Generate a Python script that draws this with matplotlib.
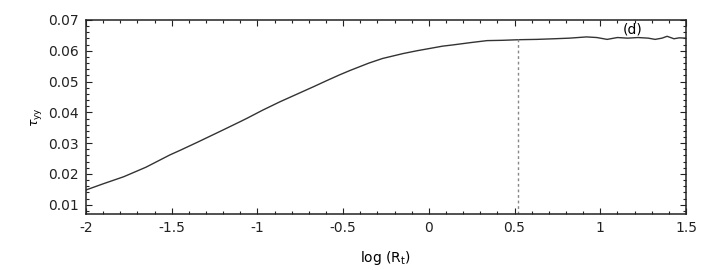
import matplotlib.pyplot as plt
from matplotlib.ticker import MultipleLocator

# values
log_rt = [-2.0, -1.9, -1.78, -1.65, -1.51, -1.45, -1.35, -1.26, -1.2, -1.1,
          -1.06, -0.97, -0.87, -0.77, -0.67, -0.6, -0.52, -0.46, -0.35, -0.27,
          -0.15, -0.07, 0.0, 0.08, 0.14, 0.25, 0.34, 0.43, 0.53, 0.63,
          0.73, 0.82, 0.92, 0.98, 1.04, 1.1, 1.16, 1.22, 1.28, 1.32,
          1.36, 1.39, 1.43, 1.46, 1.5]
tau_yy = [0.0148, 0.0168, 0.0191, 0.0222, 0.0262, 0.0277, 0.0303, 0.0327, 0.0343, 0.0370,
          0.0381, 0.0407, 0.0434, 0.0459, 0.0484, 0.0502, 0.0522, 0.0536, 0.0560, 0.0575,
          0.0591, 0.0600, 0.0607, 0.0615, 0.0619, 0.0627, 0.0633, 0.0634, 0.0636, 0.0637,
          0.0639, 0.0641, 0.0645, 0.0643, 0.0637, 0.0643, 0.0641, 0.0643, 0.0641, 0.0637,
          0.0641, 0.0647, 0.0639, 0.0642, 0.0641]
marker_x = 0.52
panel = "(d)"

fig = plt.figure(figsize=(7.13, 2.7), dpi=100)
ax = fig.add_axes([0.1206, 0.2074, 0.8415, 0.7186])

ax.plot(log_rt, tau_yy, color="#333333", lw=1.0)
ax.axvline(marker_x, ymax=(0.0637 - 0.007) / (0.07 - 0.007),
           color="#888888", lw=1.0, ls=(0, (2, 2)))

ax.set_xlim(-2, 1.5)
ax.set_ylim(0.007, 0.07)
ax.xaxis.set_major_locator(MultipleLocator(0.5))
ax.xaxis.set_minor_locator(MultipleLocator(0.1))
ax.yaxis.set_major_locator(MultipleLocator(0.01))
ax.yaxis.set_minor_locator(MultipleLocator(0.002))
ax.xaxis.set_major_formatter(plt.FuncFormatter(lambda v, p: "%g" % v))
ax.yaxis.set_major_formatter(plt.FuncFormatter(lambda v, p: "%.2f" % v))
ax.tick_params(which="both", direction="in", top=True, right=True,
               labelsize=10, colors="#222222", width=0.8, pad=5)
ax.tick_params(which="major", length=4)
ax.tick_params(which="minor", length=2)
for s in ax.spines.values():
    s.set_linewidth(1.1)
    s.set_color("#222222")

ax.text(1.19, 0.0668, panel, fontsize=10, ha="center", va="center")
ax.set_xlabel(r"log (R$_\mathrm{t}$)", fontsize=10, labelpad=10)
ax.set_ylabel(r"$\tau_{\mathrm{yy}}$", fontsize=9, labelpad=3)

fig.savefig("out.png")
